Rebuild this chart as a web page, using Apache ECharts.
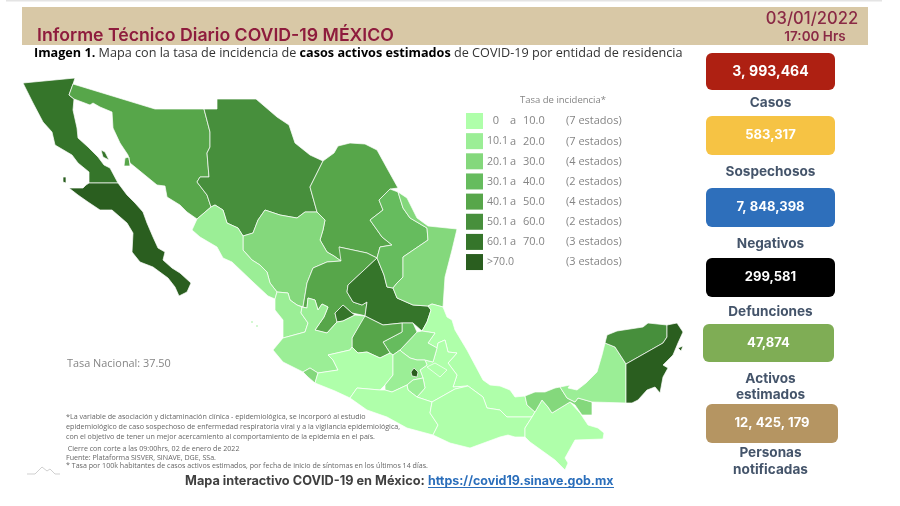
<!DOCTYPE html>
<html><head><meta charset="utf-8">
<style>html,body{margin:0;padding:0;background:#fff}#c{width:900px;height:506px}</style>
<script src="https://cdn.jsdelivr.net/npm/echarts@6/dist/echarts.min.js"></script>
</head><body><div id="c"></div>
<script>
// state outlines in map units (one list of rings per state)
const outlines = {
 "Baja California":[[[23,83],[75,78],[73,84],[69,95],[74,99],[73,110],[77,128],[78,138],[88,147],[98,157],[104,165],[110,168],[118,183],[89,183],[89,172],[78,163],[72,155],[55,145],[52,132],[43,122],[33,103],[28,93]],[[101,150],[105,152],[109,160],[103,157]]],
 "Baja California Sur":[[[89,183],[118,183],[127,195],[135,203],[143,212],[147,223],[153,237],[158,248],[165,252],[163,260],[172,268],[180,273],[191,283],[187,292],[179,296],[175,287],[168,278],[153,267],[140,262],[132,252],[133,233],[127,223],[112,210],[100,210],[88,202],[78,195],[69,188],[83,188],[86,185]],[[63,177],[66,177],[66,183],[63,182]]],
 "Sonora":[[[73,84],[155,109],[204,109],[210,132],[210,147],[207,153],[209,177],[200,177],[197,182],[207,195],[211,207],[197,219],[187,212],[180,205],[167,197],[165,186],[157,185],[135,167],[130,163],[128,155],[120,143],[113,128],[112,112],[100,107],[93,103],[90,105],[74,99],[69,95]],[[125,158],[129,157],[130,166],[124,166]]],
 "Chihuahua":[[[204,109],[217,109],[217,99],[256,99],[277,117],[289,125],[295,143],[310,155],[323,161],[310,187],[317,212],[305,212],[297,218],[280,215],[265,210],[258,220],[253,233],[243,236],[238,228],[227,223],[223,210],[215,205],[211,207],[207,195],[197,182],[200,177],[209,177],[207,153],[210,147],[210,132]]],
 "Coahuila":[[[323,161],[334,153],[338,146],[350,143],[365,144],[377,150],[388,170],[398,188],[390,189],[379,200],[383,210],[370,220],[382,237],[392,245],[380,247],[377,258],[367,253],[353,250],[339,247],[342,250],[341,261],[334,256],[327,252],[320,240],[323,230],[325,220],[317,212],[310,187]]],
 "Durango":[[[317,212],[305,212],[297,218],[280,215],[265,210],[258,220],[253,233],[243,236],[243,250],[252,260],[260,265],[267,272],[270,283],[277,292],[288,293],[290,300],[297,305],[303,307],[307,283],[313,268],[327,262],[341,261],[334,256],[327,252],[320,240],[323,230],[325,220]]],
 "Sinaloa":[[[215,205],[223,210],[227,223],[238,228],[243,236],[243,250],[252,260],[260,265],[267,272],[270,283],[277,292],[275,299],[268,296],[253,282],[232,262],[223,258],[217,247],[200,237],[192,230],[197,219],[211,207]]],
 "Nayarit":[[[277,292],[288,293],[290,300],[297,305],[302,307],[301,313],[308,323],[305,332],[283,338],[283,320],[275,310],[275,299]],[[251,321],[253,321],[253,323],[251,323]],[[256,325],[258,325],[258,327],[256,327]]],
 "Zacatecas":[[[313,268],[327,262],[341,261],[339,247],[353,250],[367,253],[377,258],[348,285],[347,292],[353,302],[362,305],[367,302],[365,316],[362,315],[352,313],[343,305],[335,313],[337,322],[327,333],[315,330],[324,317],[328,307],[322,304],[318,310],[315,300],[308,298],[307,308],[303,307],[307,283]]],
 "Aguascalientes":[[[335,313],[343,305],[352,313],[355,315],[343,321],[337,322]]],
 "San Luis Potosí":[[[377,258],[348,285],[347,292],[353,302],[362,305],[367,302],[365,316],[383,325],[402,323],[413,323],[422,331],[427,322],[431,310],[428,306],[413,305],[397,298],[393,288],[387,287],[384,275]]],
 "Nuevo León":[[[390,189],[398,192],[403,208],[410,218],[427,228],[428,240],[403,257],[403,277],[397,283],[393,288],[387,287],[384,275],[377,258],[380,247],[392,245],[382,237],[370,220],[383,210],[379,200]]],
 "Tamaulipas":[[[398,192],[407,198],[417,218],[428,226],[457,229],[452,250],[445,277],[443,307],[432,304],[428,306],[413,305],[397,298],[393,288],[397,283],[403,277],[403,257],[428,240],[427,228],[410,218],[403,208]]],
 "Veracruz":[[[428,306],[432,304],[443,307],[447,317],[452,320],[455,330],[467,350],[483,380],[490,385],[500,386],[510,390],[515,397],[525,396],[527,405],[535,412],[532,417],[507,417],[500,410],[487,408],[483,397],[468,386],[453,387],[457,375],[448,363],[457,353],[448,352],[445,340],[438,343],[437,348],[428,343],[435,333],[422,331],[427,322],[431,310]]],
 "Puebla":[[[438,343],[445,340],[448,352],[457,353],[448,363],[457,375],[453,387],[468,386],[455,389],[432,402],[417,397],[425,388],[423,378],[420,370],[427,365],[425,360],[433,362],[437,348]]],
 "Tlaxcala":[[[427,367],[435,363],[447,370],[440,377]]],
 "Hidalgo":[[[417,332],[422,331],[435,333],[428,343],[437,348],[433,362],[425,360],[417,360],[410,358],[402,352],[400,350]]],
 "Querétaro":[[[383,342],[402,332],[402,323],[413,323],[417,332],[400,350],[393,355],[390,353]]],
 "Guanajuato":[[[363,318],[365,316],[383,325],[402,323],[402,332],[383,342],[390,353],[380,358],[367,352],[358,353],[352,347],[352,338]]],
 "Jalisco":[[[302,307],[307,308],[308,298],[315,300],[318,310],[322,304],[328,307],[324,317],[315,330],[327,333],[337,322],[343,321],[355,315],[365,316],[352,338],[352,347],[350,350],[328,355],[333,360],[338,370],[318,373],[310,368],[303,372],[283,362],[273,350],[283,338],[305,332],[308,323],[301,313]]],
 "Colima":[[[303,372],[310,368],[318,373],[315,383],[308,377]]],
 "Michoacán":[[[328,355],[350,350],[352,347],[358,353],[367,352],[380,358],[390,353],[393,355],[393,375],[385,385],[380,390],[357,388],[350,398],[335,391],[315,383],[318,373],[338,370],[333,360]]],
 "México":[[[385,385],[393,375],[393,355],[400,350],[402,352],[410,358],[417,360],[425,360],[427,365],[420,370],[423,378],[413,380],[407,385],[392,392],[385,390]]],
 "Ciudad de México":[[[411,372],[414,368],[418,372],[417,377],[412,376]]],
 "Morelos":[[[407,385],[413,380],[423,378],[425,388],[417,397],[408,390]]],
 "Guerrero":[[[350,398],[357,388],[380,390],[385,390],[392,392],[407,385],[408,390],[417,397],[432,402],[430,413],[438,425],[433,435],[407,428],[387,417],[367,410]]],
 "Oaxaca":[[[432,402],[455,389],[468,386],[483,397],[487,408],[500,410],[507,417],[532,417],[525,428],[525,437],[515,437],[508,435],[500,437],[470,448],[450,443],[433,435],[438,425],[430,413]]],
 "Chiapas":[[[532,417],[535,412],[542,400],[548,407],[552,413],[570,402],[580,413],[588,425],[598,428],[604,433],[603,439],[575,440],[565,458],[568,463],[565,470],[555,460],[530,442],[525,437],[525,428]]],
 "Tabasco":[[[525,396],[535,392],[545,392],[555,388],[560,387],[567,398],[575,402],[578,398],[592,402],[592,415],[582,415],[575,405],[570,402],[552,413],[548,407],[542,400],[535,412],[527,405]]],
 "Campeche":[[[560,387],[570,385],[568,388],[577,390],[586,383],[597,372],[602,355],[605,343],[615,347],[626,364],[626,403],[592,402],[578,398],[575,402],[567,398]]],
 "Yucatán":[[[605,343],[607,335],[617,331],[643,327],[648,323],[667,325],[667,337],[663,343],[626,364],[615,347]]],
 "Quintana Roo":[[[667,325],[677,323],[683,332],[678,343],[673,355],[663,365],[668,368],[663,377],[660,393],[655,387],[647,390],[638,400],[632,403],[626,403],[626,364],[663,343],[667,337]],[[678,348],[683,346],[681,351]]]
};
const stateNames = Object.keys(outlines);
// incidence per state, estimated from the colour class of each state
const incidence = [65,75,45,55,45,25,15,15,45,65,65,35,25,8,8,8,15,35,45,15,25,8,15,80,15,8,8,8,25,15,55,80];
const binLabels = ["0","10.1","20.1","30.1","40.1","50.1","60.1",">70.0"];
const binUppers = ["10.0","20.0","30.0","40.0","50.0","60.0","70.0",""];
const binLows = [0,10.1,20.1,30.1,40.1,50.1,60.1,70.1];
const binHighs = [10,20,30,40,50,60,70,1000];
const binCounts = ["(7 estados)","(7 estados)","(4 estados)","(2 estados)","(4 estados)","(2 estados)","(3 estados)","(3 estados)"];
const binColors = ["#afffaa","#9bee96","#84d87c","#66bc5e","#57a64a","#478f3c","#35752a","#2a5e1f"];
const cardValues = ["3, 993,464","583,317","7, 848,398","299,581","47,874","12, 425, 179"];
const cardLabels = [["Casos"],["Sospechosos"],["Negativos"],["Defunciones"],["Activos","estimados"],["Personas","notificadas"]];
const cardColors = ["#ae2012","#f6c344","#2e6fbb","#000000","#7fad55","#b59562"];
const footnotes = ["*La variable de asociación y dictaminación clínica - epidemiológica, se incorporó al estudio","epidemiológico de caso sospechoso de enfermedad respiratoria viral y a la vigilancia epidemiológica,","con el objetivo de tener un mejor acercamiento al comportamiento de la epidemia en el país."];
const sources = [" Cierre con corte a las 09:00hrs, 02 de enero de 2022","Fuente: Plataforma SISVER, SINAVE, DGE, SSa.","* Tasa por 100k habitantes de casos activos estimados, por fecha de inicio de síntomas en los últimos 14 días."];

const geoJson = {type:"FeatureCollection",features:stateNames.map(n=>({type:"Feature",properties:{name:n},
  geometry:{type:"MultiPolygon",coordinates:outlines[n].map(r=>[r.map(p=>[p[0],506-p[1]])])}}))};
echarts.registerMap("mexico",geoJson);

const HEAD='Inter,"Open Sans",sans-serif', BODY='"Open Sans",sans-serif';
const LEG="#858585";
const g=[];
const txt=(x,y,s,o)=>g.push({type:"text",x,y,silent:true,z:10,style:Object.assign({text:s,fill:"#666",font:"11px "+BODY,textVerticalAlign:"middle",textBaseline:"middle"},o||{})});
const rect=(x,y,w,h,fill,r)=>g.push({type:"rect",x,y,silent:true,z:5,shape:{x:0,y:0,width:w,height:h,r:r||0},style:{fill}});
const C={textAlign:"center",align:"center"};

rect(6,0,876,1.5,"#e4e4e4");
rect(22,7,846,38,"#d8c8a6");
txt(37,35.5,"Informe Técnico Diario COVID-19 MÉXICO",{font:"600 17.7px "+HEAD,fill:"#8e1c3d"});
txt(812,19,"03/01/2022",Object.assign({font:"500 16.6px "+HEAD,fill:"#8a2a45"},C));
txt(815,36.5,"17:00 Hrs",Object.assign({font:"600 13.5px "+HEAD,fill:"#8a2a45"},C));
g.push({type:"text",x:34,y:53,silent:true,z:10,style:{text:"{b|Imagen 1.} Mapa con la tasa de incidencia de {b|casos activos estimados} de COVID-19 por entidad de residencia",font:"12.65px "+BODY,fill:"#333",textVerticalAlign:"middle",verticalAlign:"middle",rich:{b:{font:"700 12.65px "+BODY,fill:"#000"}}}});

const cardBoxes=[[706,53,129,37],[706,116,129,39],[706,188,129,39],[706,258,129,39],[703,324,131,38],[706,404,132,39]];
const labelYs=[[103],[172],[244],[312],[378.5,394.5],[453,469.5]];
const valueSizes=[14,13,13,13,13,13];
cardValues.forEach((v,i)=>{
  const b=cardBoxes[i]; rect(b[0],b[1],b[2],b[3],cardColors[i],6);
  txt(b[0]+b[2]/2,b[1]+b[3]/2,v,Object.assign({font:"700 "+valueSizes[i]+"px "+HEAD,fill:"#fff"},C));
  cardLabels[i].forEach((l,j)=>txt(770.5,labelYs[i][j],l,Object.assign({font:"700 13.6px "+HEAD,fill:"#44546a"},C)));
});

txt(563,100,"Tasa de incidencia*",Object.assign({font:"9.5px "+BODY,fill:LEG},C));
binLabels.forEach((l,i)=>{
  const y=121.3+i*20.15;
  if(i===0) txt(496,y,l,Object.assign({font:"11px "+BODY,fill:LEG},C));
  else txt(487,y,l,{font:"10.6px "+BODY,fill:LEG});
  if(i<7){ txt(513,y,"a",Object.assign({font:"11px "+BODY,fill:LEG},C));
    txt(523,y,binUppers[i],{font:"11px "+BODY,fill:LEG}); }
  txt(566,y,binCounts[i],{font:"11px "+BODY,fill:LEG});
});

txt(67,364,"Tasa Nacional: 37.50",{font:"10.9px "+BODY,fill:LEG});
footnotes.forEach((t,i)=>txt(66,417+i*10,t,{font:"7.15px "+BODY,fill:"#666"}));
sources.forEach((t,i)=>txt(66,449+i*8.5,t,{font:"7.1px "+BODY,fill:"#666"}));
g.push({type:"polyline",silent:true,z:10,shape:{points:[[27,474],[35,474],[42,467],[47,471],[50,469],[55,474],[60,474]]},style:{stroke:"#bbb",lineWidth:.7,fill:null}});
txt(185,481,"Mapa interactivo COVID-19 en México:",{font:"700 12.75px "+HEAD,fill:"#404040"});
txt(428,481,"https://covid19.sinave.gob.mx",{font:"700 12.45px "+HEAD,fill:"#2a6ebb"});
rect(428,487,186,1,"#2a6ebb");

const chart=echarts.init(document.getElementById("c"),null,{renderer:"canvas"});
chart.setOption({
  animation:false,backgroundColor:"#fff",
  geo:{map:"mexico",roam:false,aspectScale:1,left:0,top:0,width:900,height:506,
    boundingCoords:[[0,506],[900,0]],silent:true,
    label:{show:false},itemStyle:{areaColor:"#afffaa",borderColor:"#ffffff",borderWidth:.7},
    emphasis:{disabled:true},select:{disabled:true}},
  visualMap:{type:"piecewise",left:466,top:113,orient:"vertical",itemWidth:17,itemHeight:16,itemGap:4.15,
    showLabel:false,hoverLink:false,selectedMode:false,itemSymbol:"rect",padding:0,seriesIndex:0,inverse:true,
    pieces:binLows.map((lo,i)=>({gte:lo,lte:binHighs[i],color:binColors[i]}))},
  series:[{type:"map",geoIndex:0,silent:true,data:stateNames.map((n,i)=>({name:n,value:incidence[i]}))}],
  graphic:{elements:g}
});
</script></body></html>
